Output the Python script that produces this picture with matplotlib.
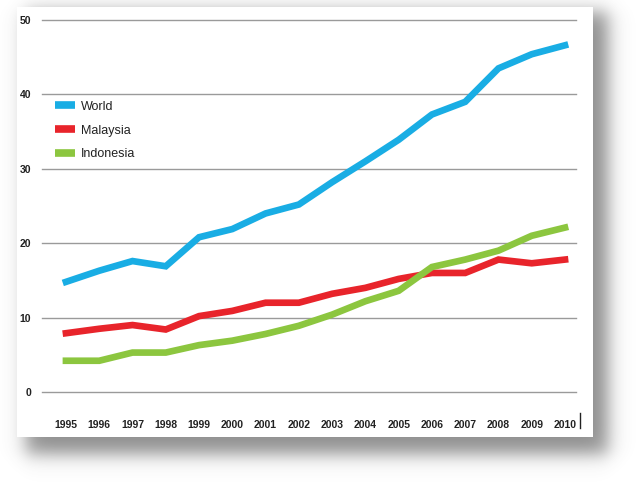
import matplotlib
matplotlib.use('Agg')
import matplotlib.pyplot as plt
import numpy as np
from matplotlib.patches import Rectangle

plt.rcParams['font.family'] = ['Liberation Sans', 'DejaVu Sans']

years = list(range(1995, 2011))
world = [14.8, 16.3, 17.6, 16.9, 20.8, 21.9, 24.0, 25.2, 28.2, 31.0, 33.9, 37.3, 39.0, 43.5, 45.4, 46.6]
malaysia = [7.9, 8.5, 9.0, 8.4, 10.2, 10.9, 12.0, 12.0, 13.2, 14.0, 15.2, 16.0, 16.0, 17.8, 17.3, 17.8]
indonesia = [4.2, 4.2, 5.3, 5.3, 6.3, 6.9, 7.8, 8.9, 10.4, 12.2, 13.6, 16.8, 17.8, 19.0, 21.0, 22.1]
y_ticks = [0, 10, 20, 30, 40, 50]

W, H = 636, 482
fig = plt.figure(figsize=(W / 100, H / 100), dpi=100)
fig.patch.set_facecolor('white')

# soft drop shadow behind the white card
bg = fig.add_axes([0, 0, 1, 1])
bg.set_axis_off()
xx = np.arange(W) + 0.5
yy = np.arange(H) + 0.5
s = 11.0
sx = 0.5 * (np.tanh((xx - 26) / s) - np.tanh((xx - 608) / s))
sy = 0.5 * (np.tanh((yy - 12) / s) - np.tanh((yy - 454) / s))
alpha = 0.66 * np.outer(sy, sx)
img = np.zeros((H, W, 4))
img[..., :3] = 0.33
img[..., 3] = alpha
bg.imshow(img, extent=(0, W, H, 0), interpolation='bilinear', aspect='auto')
bg.set_xlim(0, W)
bg.set_ylim(H, 0)
bg.add_patch(Rectangle((17, 7), 576, 430, facecolor='white', edgecolor='none'))

ax = fig.add_axes([42 / W, 1 - 392 / H, 534 / W, 372 / H])
ax.set_facecolor('none')

ax.plot(years, world, color='#19ADE4', lw=4.8, label='World', solid_joinstyle='miter')
ax.plot(years, malaysia, color='#E8242B', lw=4.8, label='Malaysia', solid_joinstyle='miter')
ax.plot(years, indonesia, color='#8CC63F', lw=4.8, label='Indonesia', solid_joinstyle='miter')

ax.set_xlim(1994.28, 2010.33)
ax.set_ylim(0, 50)
ax.set_yticks(y_ticks)
ax.set_xticks(years)
ax.set_xticklabels([str(y) for y in years])
ax.grid(axis='y', color='#9a9a9a', lw=1.0)
for gl in ax.get_ygridlines():
    gl.set_clip_on(False)
ax.set_axisbelow(True)
for sp in ax.spines.values():
    sp.set_visible(False)
ax.tick_params(length=0, labelsize=7.5, labelcolor='#222222')
ax.tick_params(axis='x', pad=20)
ax.tick_params(axis='y', pad=8)
for lbl in ax.get_xticklabels() + ax.get_yticklabels():
    lbl.set_fontweight('bold')

# small bar after the last year label
ax.plot([2010.45, 2010.45], [-2.8, -4.9], color='#222222', lw=1, clip_on=False)

leg = ax.legend(loc='upper left', bbox_to_anchor=(0.024, 0.783), frameon=False,
                borderpad=0, borderaxespad=0, handlelength=1.6, handletextpad=0.5,
                labelspacing=0.95, prop={'size': 9})
for h in leg.get_lines():
    h.set_linewidth(5.5)
    h.set_solid_capstyle('butt')
for t in leg.get_texts():
    t.set_color('#222222')

fig.savefig('out.png', dpi=100)
